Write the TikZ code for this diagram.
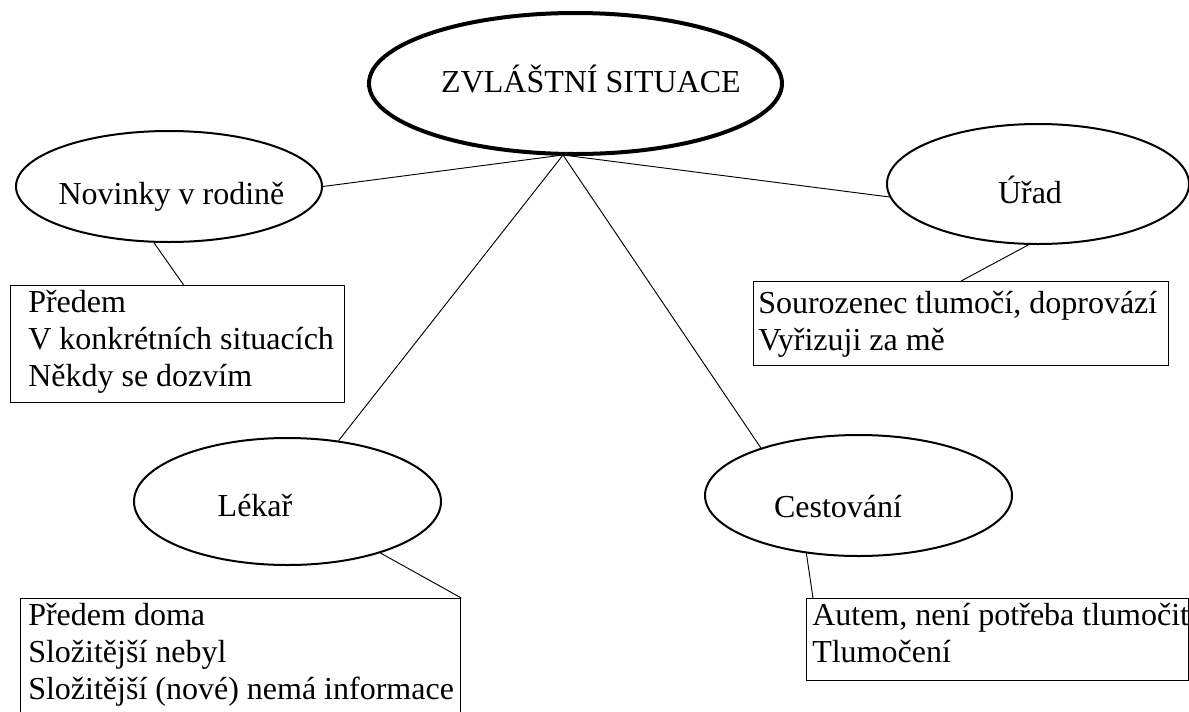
\documentclass[tikz,border=0pt]{standalone}
\usepackage{fontspec}
\setmainfont{Liberation Serif}
\usetikzlibrary{shapes.geometric}
\begin{document}
\begin{tikzpicture}[x=0.75pt,y=-0.75pt,
  oval/.style={draw=black, ellipse, line width=1.5pt, inner sep=0pt},
  hubaval/.style={draw=black, ellipse, line width=3pt, inner sep=0pt},
  label text/.style={font=\fontsize{24pt}{27.75pt}\selectfont, inner sep=0pt, anchor=base},
  list text/.style={font=\fontsize{24pt}{27.75pt}\selectfont, inner sep=0pt, anchor=north west, align=left},
  frame/.style={draw=black, line width=1pt, inner sep=0pt, anchor=north west},
  link/.style={draw=black, line width=0.7pt}]
\useasboundingbox (0,0) rectangle (1189,711);

% central topic
\node[hubaval, minimum width={413*0.75pt}, minimum height={141*0.75pt}] (zs) at (575.5,83.5) {};
\node[label text] (zs-t) at (591,92) {ZVLÁŠTNÍ SITUACE};

% sub-topics
\node[oval, minimum width={306*0.75pt}, minimum height={111*0.75pt}] (nov) at (169,186.5) {};
\node[label text] (nov-t) at (171.5,204) {Novinky v rodině};

\node[oval, minimum width={302*0.75pt}, minimum height={120*0.75pt}] (ur) at (1038,184) {};
\node[label text] (ur-t) at (1030,203) {Úřad};

\node[oval, minimum width={307*0.75pt}, minimum height={127*0.75pt}] (lek) at (287.5,501.5) {};
\node[label text] (lek-t) at (255,516) {Lékař};

\node[oval, minimum width={307*0.75pt}, minimum height={121*0.75pt}] (ces) at (858.5,495.5) {};
\node[label text] (ces-t) at (838,517) {Cestování};

% detail boxes
\node[frame, minimum width={334*0.75pt}, minimum height={117*0.75pt}] (b1) at (10,285) {};
\node[list text] (b1-t) at (28,285.3) {\rule{0pt}{20pt}Předem\\V konkrétních situacích\\Někdy se dozvím};

\node[frame, minimum width={415*0.75pt}, minimum height={84*0.75pt}] (b2) at (753,281) {};
\node[list text] (b2-t) at (758,286.3) {\rule{0pt}{20pt}Sourozenec tlumočí, doprovází\\Vyřizuji za mě};

\node[frame, minimum width={440*0.75pt}, minimum height={116*0.75pt}] (b3) at (20,598) {};
\node[list text] (b3-t) at (28,598.3) {\rule{0pt}{20pt}Předem doma\\Složitější nebyl\\Složitější (nové) nemá informace};

\node[frame, minimum width={382*0.75pt}, minimum height={82*0.75pt}] (b4) at (806,598) {};
\node[list text] (b4-t) at (812,598.3) {\rule{0pt}{20pt}Autem, není potřeba tlumočit\\Tlumočení};

% connectors from the central topic
\coordinate (hub) at (563,155);
\draw[link] (hub) -- (nov.east);
\draw[link] (hub) -- (ur.185);
\draw[link] (hub) -- (lek.50);
\draw[link] (hub) -- (ces.154);

% connectors to the detail boxes
\draw[link] (nov.255) -- ([xshift=4.5pt]b1.north);
\draw[link] (ur.261) -- (b2.north);
\draw[link] (lek.331) -- (b3.north east);
\draw[link] (ces.228) -- ([xshift=5.25pt]b4.north west);
\end{tikzpicture}
\end{document}
